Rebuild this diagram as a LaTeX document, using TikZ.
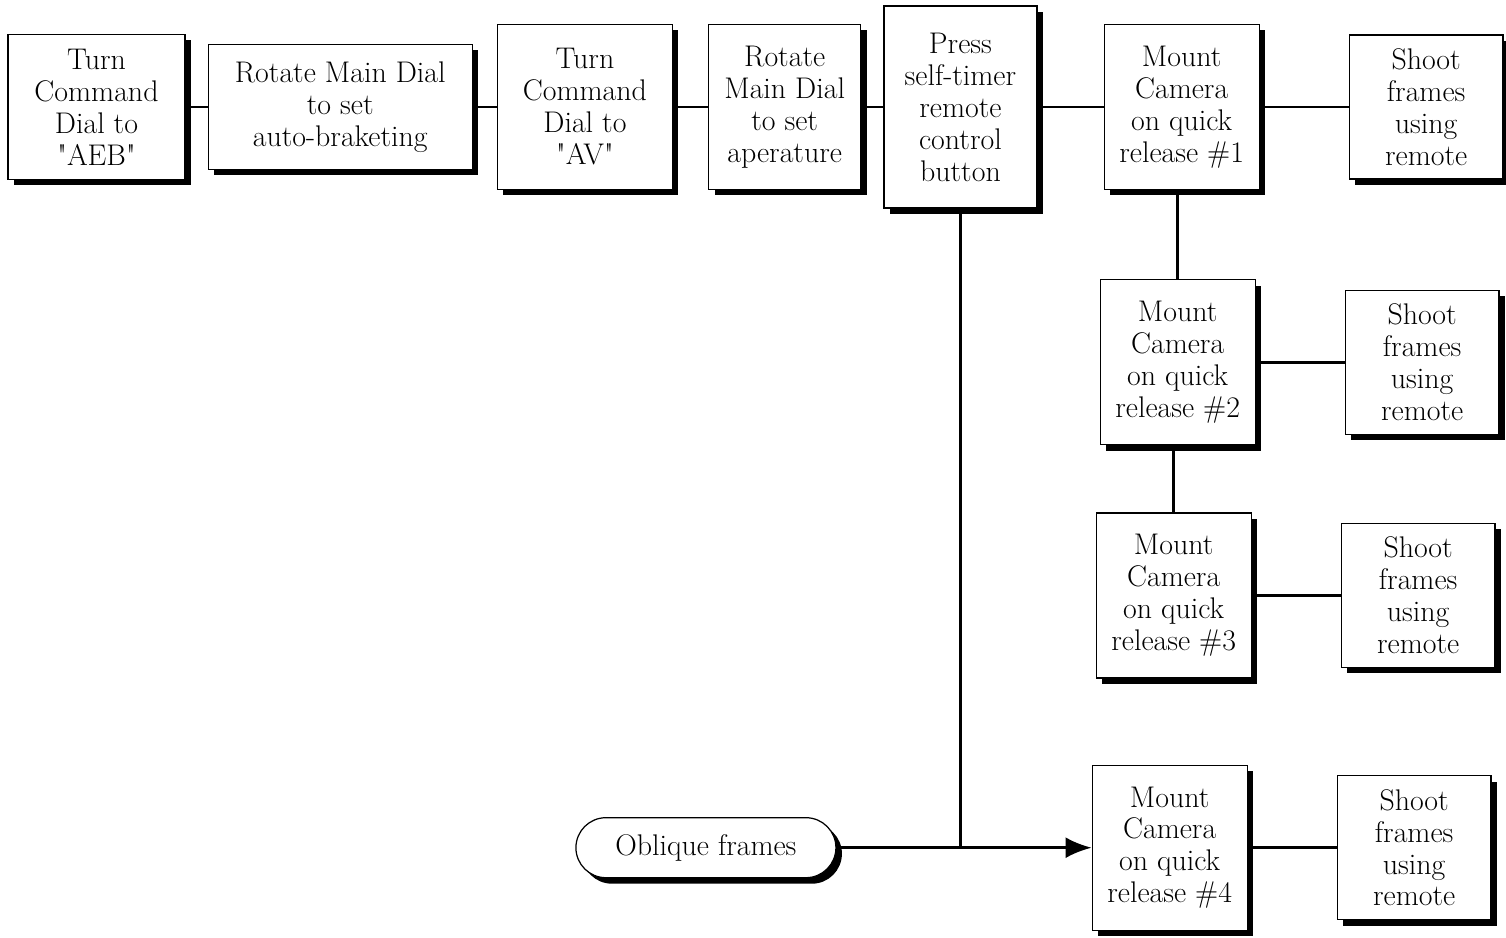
\documentclass[tikz,border=0pt]{standalone}
\usepackage{tikz}
\usetikzlibrary{shapes, arrows.meta, positioning, shadows}

\begin{document}
\begin{tikzpicture}[node distance=1.78cm, auto]
        % box styles for every step
        \tikzstyle{stepbox} = [rectangle, draw=black, line width=0.7pt, fill=white, align=center, inner sep=2pt,
            font=\fontsize{17}{18.2}\selectfont,
            drop shadow={shadow xshift=0.12cm, shadow yshift=-0.12cm, fill=black, opacity=1}]
        \tikzstyle{mountbox} = [stepbox, minimum width=3.1cm, minimum height=3.3cm]
        \tikzstyle{shootbox} = [stepbox, minimum width=3.07cm, minimum height=2.88cm]
        \tikzstyle{startbox} = [stepbox, rounded corners=0.6cm, minimum width=5.2cm, minimum height=1.2cm]
        \tikzstyle{link} = [line width=1.6pt]
        \tikzstyle{arrow} = [line width=1.6pt, -{Latex[length=0.52cm, width=0.42cm]}]

        \useasboundingbox (0,0) rectangle (30.12,-18.74);

        % Step 1: camera settings
        \node (aeb) [stepbox, minimum width=3.54cm, minimum height=2.9cm] at (1.93,-2.14) {Turn\\Command\\Dial to\\\textquotedbl AEB\textquotedbl};
        \node (bracket) [stepbox, right=0.44cm of aeb, minimum width=5.28cm, minimum height=2.5cm] {Rotate Main Dial\\to set\\auto-braketing};
        \node (av) [stepbox, right=0.48cm of bracket, minimum width=3.5cm, minimum height=3.3cm] {Turn\\Command\\Dial to\\\textquotedbl AV\textquotedbl};
        \node (aperture) [stepbox, right=0.7cm of av, minimum width=3.04cm, minimum height=3.3cm] {Rotate\\Main Dial\\to set\\aperature};
        \node (timer) [stepbox, right=0.44cm of aperture, minimum width=3.06cm, minimum height=4.04cm] {Press\\self-timer\\remote\\control\\button};

        % Step 2: mount camera on each quick release
        \node (mount1) [mountbox, right=1.32cm of timer] {Mount\\Camera\\on quick\\release \#1};
        \node (mount2) [mountbox, below=of mount1, xshift=-0.08cm] {Mount\\Camera\\on quick\\release \#2};
        \node (mount3) [mountbox, below=1.34cm of mount2, xshift=-0.08cm] {Mount\\Camera\\on quick\\release \#3};
        \node (mount4) [mountbox, below=1.72cm of mount3, xshift=-0.08cm] {Mount\\Camera\\on quick\\release \#4};

        % Step 3: shoot
        \node (shoot1) [shootbox, right=of mount1] {Shoot\\frames\\using\\remote};
        \node (shoot2) [shootbox, right=of mount2] {Shoot\\frames\\using\\remote};
        \node (shoot3) [shootbox, right=of mount3] {Shoot\\frames\\using\\remote};
        \node (shoot4) [shootbox, right=of mount4] {Shoot\\frames\\using\\remote};

        % oblique branch
        \node (oblique) [startbox, left=5.1cm of mount4] {Oblique frames};
        \coordinate (join) at (timer.south |- mount4.west);

        % connectors
        \draw [link] (aeb) -- (bracket);
        \draw [link] (bracket) -- (av);
        \draw [link] (av) -- (aperture);
        \draw [link] (aperture) -- (timer);
        \draw [link] (timer) -- (mount1);
        \draw [link] (mount2.north) -- (mount2.north |- mount1.south);
        \draw [link] (mount3.north) -- (mount3.north |- mount2.south);
        \draw [link] (mount1) -- (shoot1);
        \draw [link] (mount2) -- (shoot2);
        \draw [link] (mount3) -- (shoot3);
        \draw [link] (mount4) -- (shoot4);
        \draw [link] (timer) -- (join);
        \draw [arrow] (oblique) -- (mount4);

    \end{tikzpicture}
\end{document}
